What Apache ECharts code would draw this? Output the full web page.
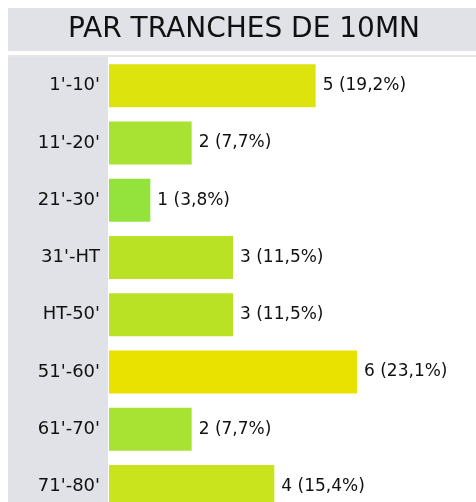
<!DOCTYPE html>
<html>
<head>
<meta charset="utf-8">
<script src="https://cdn.jsdelivr.net/npm/echarts@6/dist/echarts.min.js"></script>
<style>
  html, body { margin: 0; padding: 0; background: #fff; }
  #chart { width: 476px; height: 502px; }
</style>
</head>
<body>
<div id="chart"></div>
<script>
// tranches of 10 minutes, top to bottom
var categories = ["1'-10'", "11'-20'", "21'-30'", "31'-HT", "HT-50'", "51'-60'", "61'-70'", "71'-80'"];
var counts = [5, 2, 1, 3, 3, 6, 2, 4];
// colour per count value (1..6)
var palette = ['#94e33c', '#a8e232', '#b9e224', '#c9e31c', '#dde30c', '#e9e200'];

var total = counts.reduce(function (a, b) { return a + b; }, 0);
var font = '"DejaVu Sans", sans-serif';

var dom = document.getElementById('chart');
var myChart = echarts.init(dom);

var option = {
  animation: false,
  backgroundColor: '#fff',
  graphic: [
    { type: 'rect', z: -10, shape: { x: 8, y: 8, width: 468, height: 43 }, style: { fill: '#e1e2e8' } },
    { type: 'rect', z: -10, shape: { x: 8, y: 55, width: 100, height: 447 }, style: { fill: '#e1e2e8' } },
    { type: 'rect', z: -10, shape: { x: 8, y: 55, width: 468, height: 2 }, style: { fill: '#e6e6ea' } },
    {
      type: 'text', left: 68, top: 16,
      style: { text: 'PAR TRANCHES DE 10MN', fontSize: 28, fontFamily: font, fill: '#111' }
    }
  ],
  grid: { left: 109, top: 57, width: 372, height: 458, outerBoundsMode: 'none' },
  xAxis: {
    type: 'value', min: 0, max: 9, show: false
  },
  yAxis: {
    type: 'category',
    inverse: true,
    data: categories,
    axisLine: { show: false },
    axisTick: { show: false },
    axisLabel: { margin: 9, color: '#111', fontSize: 18, fontFamily: font }
  },
  series: [{
    type: 'bar',
    barWidth: 43,
    data: counts.map(function (v) {
      return { value: v, itemStyle: { color: palette[v - 1] } };
    }),
    label: {
      show: true,
      position: 'right',
      distance: 7,
      color: '#111',
      fontSize: 17,
      fontFamily: font,
      formatter: function (p) {
        return p.value + ' (' + (p.value / total * 100).toFixed(1).replace('.', ',') + '%)';
      }
    }
  }]
};

myChart.setOption(option, true);
window.addEventListener('resize', function () { myChart.resize(); });
</script>
</body>
</html>
